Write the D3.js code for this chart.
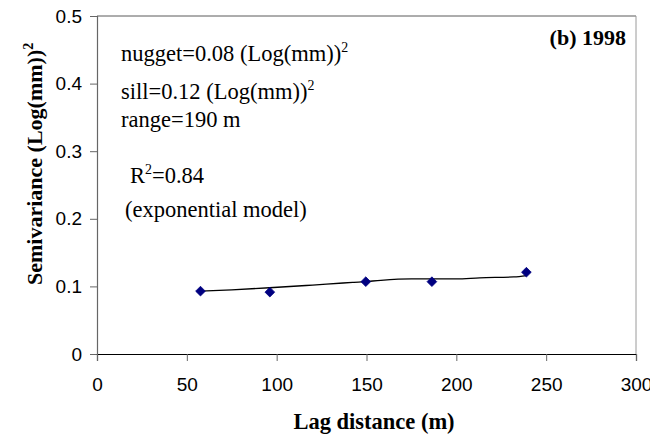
<!DOCTYPE html>
<html>
<head>
<meta charset="utf-8">
<script src="https://cdn.jsdelivr.net/npm/d3@7"></script>
<style>
html,body{margin:0;padding:0;background:#fff;}
svg{display:block;}
</style>
</head>
<body>
<svg id="chart" width="665" height="435"></svg>
<script>
// Data
const lagDistance = [57.6, 96.2, 149.6, 186.4, 239];
const semivariance = [0.093, 0.0915, 0.107, 0.107, 0.121];
const modelLag = [57.6, 75, 96, 120, 137, 143, 149, 158, 175, 200, 213, 232, 239];
const modelGamma = [0.093, 0.095, 0.098, 0.102, 0.105, 0.106, 0.107, 0.109, 0.111, 0.111, 0.1127, 0.114, 0.116];
const xTicks = [0, 50, 100, 150, 200, 250, 300];
const yTicks = [0, 0.1, 0.2, 0.3, 0.4, 0.5];

const svg = d3.select("#chart");
const L = 97, R = 636, T = 16, B = 354;
const x = d3.scaleLinear().domain([0, 300]).range([L, R]);
const y = d3.scaleLinear().domain([0, 0.5]).range([B, T]);

// frame: top and right
svg.append("line").attr("x1", L).attr("x2", R).attr("y1", T).attr("y2", T)
  .attr("stroke", "#5a5a5a").attr("stroke-width", 1);
svg.append("line").attr("x1", R).attr("x2", R).attr("y1", T).attr("y2", B)
  .attr("stroke", "#9a9a9a").attr("stroke-width", 1);

// y axis
const yAxis = svg.append("g").attr("transform", `translate(${L},0)`)
  .call(d3.axisLeft(y).tickValues(yTicks).tickSize(7).tickPadding(8)
    .tickFormat(d => d === 0 ? "0" : d3.format(".1f")(d)));
yAxis.select(".domain").attr("stroke", "#666").attr("stroke-width", 1.2);
yAxis.selectAll(".tick line").attr("stroke", "#666");
yAxis.selectAll("text").attr("font-family", "Liberation Sans, Arial, sans-serif")
  .attr("font-size", 19).attr("fill", "#000");

// x axis
const xAxis = svg.append("g").attr("transform", `translate(0,${B})`)
  .call(d3.axisBottom(x).tickValues(xTicks).tickSize(7).tickPadding(17)
    .tickFormat(d3.format("d")));
xAxis.select(".domain").attr("stroke", "#000").attr("stroke-width", 1.2);
xAxis.selectAll(".tick line").attr("stroke", "#666");
xAxis.selectAll("text").attr("font-family", "Liberation Sans, Arial, sans-serif")
  .attr("font-size", 19).attr("fill", "#000");

// model line
const model = modelLag.map((d, i) => [d, modelGamma[i]]);
svg.append("path").datum(model)
  .attr("fill", "none").attr("stroke", "#000").attr("stroke-width", 1.3)
  .attr("d", d3.line().x(d => x(d[0])).y(d => y(d[1])).curve(d3.curveMonotoneX));

// points
const pts = lagDistance.map((d, i) => [d, semivariance[i]]);
svg.append("g").selectAll("path").data(pts).join("path")
  .attr("transform", d => `translate(${x(d[0])},${y(d[1])})`)
  .attr("d", d3.symbol().type(d3.symbolDiamond2).size(60))
  .attr("fill", "#000080").attr("stroke", "#000080").attr("stroke-width", 0.8);

// annotations
const serif = "Liberation Serif, Times New Roman, serif";
function supText(xp, yp, main, sup, size, weight) {
  const t = svg.append("text").attr("x", xp).attr("y", yp)
    .attr("font-family", serif).attr("font-size", size).attr("font-weight", weight || "normal")
    .attr("fill", "#000");
  t.append("tspan").text(main[0]);
  if (sup !== null) {
    t.append("tspan").attr("dy", -size * 0.42).attr("font-size", size * 0.62).text(sup);
    if (main[1]) t.append("tspan").attr("dy", size * 0.42).text(main[1]);
  }
  return t;
}
supText(121, 61, ["nugget=0.08 (Log(mm))"], "2", 22.5);
supText(121, 99, ["sill=0.12 (Log(mm))"], "2", 22.5);
supText(121, 127, ["range=190 m"], null, 22.5);
supText(130, 183, ["R", "=0.84"], "2", 22.5);
supText(125, 217, ["(exponential model)"], null, 22.5);

svg.append("text").attr("x", 626).attr("y", 45).attr("text-anchor", "end")
  .attr("font-family", serif).attr("font-size", 22).attr("font-weight", "bold")
  .text("(b) 1998");

// axis titles
svg.append("text").attr("x", 374).attr("y", 429).attr("text-anchor", "middle")
  .attr("font-family", serif).attr("font-size", 22.5).attr("font-weight", "bold")
  .text("Lag distance (m)");

const yt = svg.append("text").attr("transform", "translate(42,285) rotate(-90)")
  .attr("font-family", serif).attr("font-size", 22).attr("font-weight", "bold");
yt.append("tspan").text("Semivariance (Log(mm))");
yt.append("tspan").attr("dy", -9).attr("font-size", 14).text("2");

// right edge crop as in the reference
svg.append("rect").attr("x", 650).attr("y", 0).attr("width", 15).attr("height", 435).attr("fill", "#fff");
</script>
</body>
</html>
